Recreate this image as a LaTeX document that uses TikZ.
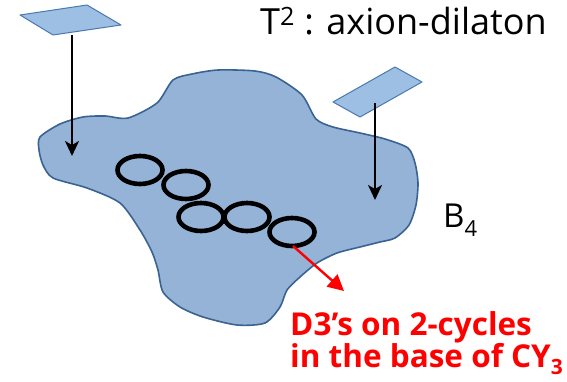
\documentclass[tikz,border=0pt]{standalone}
\usepackage{fontspec}
\setmainfont{Open Sans}
\usetikzlibrary{arrows.meta}
\definecolor{cloudfill}{HTML}{95B3D7}
\definecolor{cloudline}{HTML}{3A6393}
\definecolor{plfill}{HTML}{9DBFE3}
\definecolor{plline}{HTML}{4A79AD}
\tikzset{
  plate/.style={fill=plfill,draw=plline,line width=1pt,line join=round},
  proj/.style={line width=2.2pt,-{Stealth[length=15pt,width=14pt,inset=4pt]}},
  cyc/.style={draw=black,line width=4.6pt},
  redarr/.style={draw=red,line width=2.4pt,-{Triangle[length=16pt,width=16pt]}},
  lbl/.style={inner sep=0pt,font=\fontsize{36}{40}\selectfont},
}
\begin{document}
\begin{tikzpicture}[x=1pt,y=-1pt]
\useasboundingbox (0,0) rectangle (567,382);
% base B4
\draw[fill=cloudfill,draw=cloudline,line width=1.6pt] plot[smooth cycle,tension=0.45] coordinates {
(40,137) (60,124) (83,117) (105,116) (128,118) (157,103) (173,80) (192,74) (218,70) (255,71) (276,77) (302,95) (316,119) (333,127) (360,133) (385,139) (408,148) (415,163) (418,183) (416,205) (409,225) (395,238) (380,242) (360,247) (337,253) (317,263) (300,277) (287,290) (280,307) (265,323) (237,325) (203,317) (180,307) (163,292) (158,270) (152,252) (140,230) (120,203) (87,188) (53,178) (43,165) (39,150)};
% tori
\draw[plate] (20,15) -- (87,5) -- (121,25) -- (53,35) -- cycle;
\draw[plate] (333,102) -- (395,67) -- (422,82) -- (360,117) -- cycle;
\coordinate (p1) at (72,35);
\coordinate (q1) at (72,156);
\coordinate (p2) at (375,103);
\coordinate (q2) at (375,200);
\draw[proj] (p1) -- (q1);
\draw[proj] (p2) -- (q2);
% cycles
\draw[cyc] (140,170) ellipse [x radius=22.5,y radius=14];
\draw[cyc] (186,185) ellipse [x radius=22.5,y radius=14];
\draw[cyc] (201,217) ellipse [x radius=22.5,y radius=14];
\draw[cyc] (247,217) ellipse [x radius=22.5,y radius=14];
\draw[cyc] (292,232) ellipse [x radius=22.5,y radius=14];
\coordinate (c5) at (293,246);
\coordinate (rt) at (344,291);
\draw[redarr] (c5) -- (rt);
% labels
\node[lbl,anchor=base west] (t2) at (260,35) {T\textsuperscript{2} : axion-dilaton};
\node[lbl,anchor=base west,font=\fontsize{33}{36}\selectfont] (b4) at (443,227) {B\raisebox{-0.3em}{\fontsize{22}{24}\selectfont 4}};
\node[inner sep=0pt,anchor=base west,text=red,font=\fontsize{31.5}{32}\bfseries\selectfont,align=left] (d3) at (290,367) {D3’s on 2-cycles\\[0pt]in the base of CY\raisebox{-0.25em}{\fontsize{21}{22}\selectfont 3}};
\end{tikzpicture}
\end{document}
